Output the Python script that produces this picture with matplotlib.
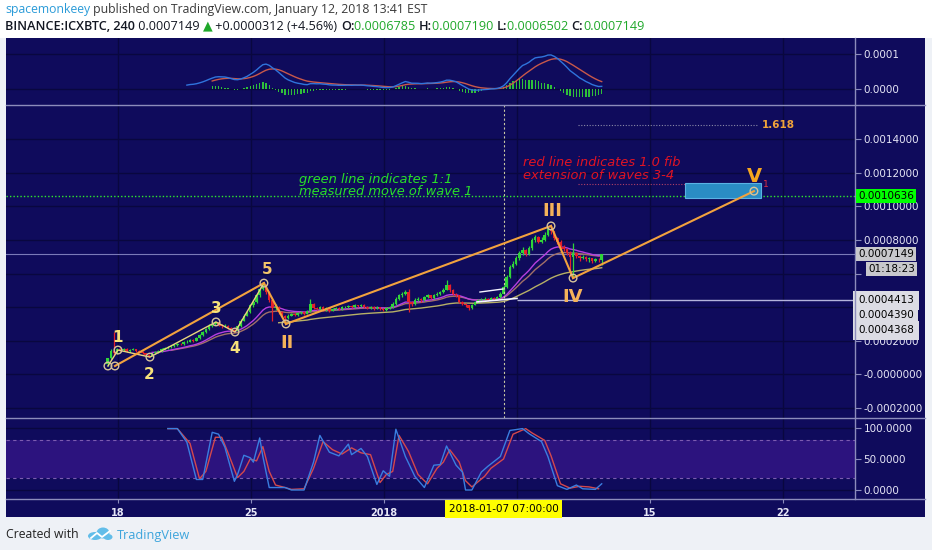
import matplotlib
matplotlib.use("Agg")
import matplotlib.pyplot as plt
import matplotlib.transforms as mtrans
from matplotlib.patches import Rectangle, Ellipse
import numpy as np
import pandas as pd

# ---------------- data ----------------
UNIT = 1e-6                      # candle values are in millionths of BTC
FIRST_CANDLE_DAY = -13 / 24      # Dec 17 11:00 EST, in days since Dec 18 00:00
CANDLE_DAYS = 4 / 24             # 240-minute candles
first_open = 60
last_open = 678.5

closes = [95, 140, 125, 150, 145, 150, 140, 148, 150, 140,
          135, 125, 118, 112, 125, 135, 140, 150, 155, 165,
          170, 175, 180, 178, 190, 195, 205, 200, 215, 235,
          250, 270, 290, 300, 310, 295, 285, 290, 275, 265,
          258, 285, 320, 350, 370, 410, 430, 470, 510, 530,
          490, 440, 395, 400, 370, 350, 335, 350, 360, 355,
          365, 370, 362, 375, 420, 395, 390, 400, 385, 392,
          380, 388, 395, 390, 398, 400, 405, 398, 410, 405,
          412, 400, 395, 400, 392, 398, 390, 385, 395, 400,
          420, 450, 470, 480, 490, 430, 420, 445, 450, 440,
          460, 470, 455, 470, 480, 490, 505, 530, 500, 480,
          470, 430, 420, 410, 395, 415, 430, 440, 445, 450,
          445, 455, 450, 460, 480, 520, 580, 640, 655, 690,
          720, 740, 715, 750, 800, 815, 790, 800, 830, 865,
          850, 810, 790, 760, 745, 725, 700, 720, 705, 690,
          700, 685, 690, 675, 685, 683.7, 714.9]
highs = [100, 150, 250, 158, 160, 156, 155, 152, 158, 153,
         145, 138, 128, 122, 130, 140, 146, 155, 162, 170,
         176, 182, 188, 186, 196, 202, 212, 210, 222, 242,
         258, 278, 298, 308, 318, 314, 300, 298, 294, 280,
         270, 292, 328, 358, 380, 418, 440, 480, 522, 550,
         535, 495, 448, 420, 405, 378, 355, 358, 368, 366,
         372, 378, 375, 382, 450, 425, 402, 408, 404, 398,
         396, 394, 402, 400, 405, 408, 412, 410, 418, 415,
         420, 416, 404, 406, 404, 404, 402, 394, 400, 408,
         428, 458, 480, 490, 500, 510, 438, 452, 460, 455,
         468, 480, 475, 478, 488, 498, 515, 560, 535, 506,
         486, 474, 436, 426, 415, 420, 436, 448, 452, 458,
         456, 462, 460, 468, 488, 530, 592, 652, 672, 702,
         735, 755, 748, 762, 812, 830, 822, 815, 845, 884,
         880, 855, 818, 798, 770, 752, 732, 780, 728, 712,
         712, 705, 700, 695, 692, 695, 719]
lows = [50, 90, 118, 120, 138, 140, 135, 136, 143, 135,
        128, 120, 112, 103, 108, 120, 130, 136, 145, 150,
        160, 165, 170, 172, 174, 185, 190, 193, 196, 210,
        230, 245, 265, 282, 295, 288, 278, 280, 268, 258,
        250, 254, 280, 315, 345, 365, 400, 425, 462, 500,
        480, 430, 318, 385, 360, 340, 303, 330, 345, 348,
        350, 360, 355, 358, 372, 388, 382, 385, 378, 380,
        374, 376, 384, 384, 386, 393, 396, 392, 395, 400,
        400, 394, 388, 390, 386, 388, 384, 378, 380, 390,
        396, 415, 445, 462, 472, 370, 405, 415, 438, 432,
        435, 452, 448, 450, 465, 475, 485, 500, 492, 472,
        462, 422, 410, 400, 385, 390, 410, 425, 435, 440,
        438, 440, 444, 446, 455, 476, 515, 572, 630, 648,
        682, 712, 705, 708, 742, 790, 780, 782, 795, 822,
        838, 798, 776, 748, 735, 712, 588, 578, 692, 676,
        684, 672, 670, 660, 668, 670, 650.2]

# Stochastic RSI (%K blue, %D red): candle index -> value
k_idx = [19, 22, 25, 28, 30, 33, 35, 37, 40, 41, 43, 45, 46, 48, 49, 51, 53, 56, 58, 62,
         65, 67, 70, 73, 76, 77, 80, 82, 85, 87, 89, 91, 94, 97, 100, 103, 105, 107, 110, 112,
         113, 115, 118, 120, 124, 127, 131, 133, 137, 139, 142, 145, 148, 150, 154, 156]
k_val = [99, 99, 77, 17, 17, 93, 90, 69, 14, 25, 56, 52, 45, 84, 54, 4, 4, 4, 0, 0,
         45, 88, 61, 55, 74, 57, 67, 54, 9, 31, 22, 98, 54, 22, 4, 40, 41, 71, 40, 29,
         0, 0, 29, 38, 54, 96, 99, 91, 78, 54, 7, 1, 8, 2, 1, 10]
d_idx = [19, 22, 26, 29, 31, 34, 36, 38, 41, 43, 45, 47, 49, 51, 53, 56, 58, 62, 65, 68,
         71, 74, 77, 80, 83, 86, 88, 90, 92, 95, 98, 101, 104, 106, 108, 111, 113, 115, 119, 121,
         125, 128, 132, 134, 138, 140, 143, 146, 149, 152, 155]
d_val = [99, 99, 75, 18, 30, 85, 85, 60, 20, 30, 50, 47, 70, 30, 8, 4, 1, 2, 35, 78,
         65, 58, 68, 60, 57, 12, 25, 30, 88, 62, 25, 10, 35, 45, 65, 45, 15, 5, 22, 35,
         50, 90, 99, 92, 80, 55, 10, 3, 6, 5, 2]

# Elliott wave drawing points (day, price)
wave_days = [-0.53, -0.16, 0.0, 1.68, 5.16, 6.16, 7.68, 8.84, 22.79, 23.95, 33.47]
wave_prices = [0.00005, 0.00005, 0.000145, 0.000103, 0.000312, 0.000252,
               0.000543, 0.000300, 0.000883, 0.000573, 0.001090]
wave_labels = [(2, "1"), (3, "2"), (4, "3"), (5, "4"), (6, "5"),
               (7, "II"), (8, "III"), (9, "IV"), (10, "V")]

measured_move = 0.0010636
fib_1618 = 0.0014834
fib_100 = 0.0011325
target_box = (0.00105, 0.001138)
hline_level = 0.0004413
stacked_levels = ["0.0004413", "0.0004390", "0.0004368"]
last_price = 0.0007149
crosshair_day = 20 + 7 / 24  # 2018-01-07 07:00

date_ticks = [0, 7, 14, 21, 28, 35]
date_labels = ["18", "25", "2018", "", "15", "22"]
price_ticks = [-0.0002, 0.0, 0.0002, 0.0004, 0.0006, 0.0008, 0.0010, 0.0012, 0.0014]
price_labels = ["-0.0002000", "-0.0000000", "0.0002000", "", "",
                "0.0008000", "0.0010000", "0.0012000", "0.0014000"]
macd_ticks = [0.0, 0.0001]
macd_labels = ["0.0000", "0.0001"]
stoch_ticks = [0, 50, 100]
stoch_labels = ["0.0000", "50.0000", "100.0000"]

# ---------------- figure ----------------
W, H = 932, 550
BG = '#0f0b5c'
GRID = '#09073f'
SEP = '#8c8cbc'
TXT = '#e6e6f6'

fig = plt.figure(figsize=(W / 100, H / 100), dpi=100)
fig.patch.set_facecolor('#eef1f6')


def frect(x0, y0, x1, y1):
    return [x0 / W, 1 - y1 / H, (x1 - x0) / W, (y1 - y0) / H]


fig.add_artist(Rectangle((0, 1 - 38 / H), 1, 38 / H, transform=fig.transFigure,
                         facecolor='#ffffff', edgecolor='none', zorder=-10))
fig.add_artist(Rectangle((6 / W, 1 - 517 / H), 919 / W, 479 / H, transform=fig.transFigure,
                         facecolor=BG, edgecolor='none', zorder=-9))

ax_m = fig.add_axes(frect(6, 38, 855, 105))
ax_p = fig.add_axes(frect(6, 105, 855, 418))
ax_s = fig.add_axes(frect(6, 418, 855, 499))

XMIN, XMAX = (6 - 118) / 19.0, (855 - 118) / 19.0
for ax in (ax_m, ax_p, ax_s):
    ax.set_facecolor(BG)
    ax.set_xlim(XMIN, XMAX)
    for s in ax.spines.values():
        s.set_visible(False)
    ax.yaxis.tick_right()
    ax.tick_params(axis='y', direction='out', length=4, width=0.8, color=SEP,
                   labelcolor=TXT, labelsize=7.5, pad=2)
    ax.tick_params(axis='x', bottom=False, labelbottom=False)
    for d in date_ticks:
        ax.axvline(d, color=GRID, lw=1, zorder=0)

ax_p.set_ylim(-0.0002593, 0.0016024)
ax_m.set_ylim(-0.0000457, 0.0001457)
ax_s.set_ylim(-14.5, 116.1)
ax_p.set_yticks(price_ticks, price_labels)
ax_m.set_yticks(macd_ticks, macd_labels)
ax_s.set_yticks(stoch_ticks, stoch_labels)
for ax, ticks in ((ax_p, price_ticks), (ax_m, macd_ticks), (ax_s, stoch_ticks)):
    for tv in ticks:
        ax.axhline(tv, color=GRID, lw=1, zorder=0)

ax_s.set_xticks(date_ticks, date_labels)
ax_s.tick_params(axis='x', bottom=True, labelbottom=True, direction='out', length=3,
                 color=SEP, labelcolor=TXT, labelsize=7)
for lab in ax_s.get_xticklabels():
    lab.set_fontweight('bold')

# separators
for yy in (105, 418, 499):
    fig.add_artist(plt.Line2D([6 / W, 925 / W], [1 - yy / H] * 2, transform=fig.transFigure,
                              color=SEP, lw=1, zorder=5))
fig.add_artist(plt.Line2D([855 / W] * 2, [1 - 38 / H, 1 - 499 / H], transform=fig.transFigure,
                          color=SEP, lw=1, zorder=5))

# ---------------- candles ----------------
c = np.array(closes, dtype=float)
hi = np.array(highs, dtype=float)
lo = np.array(lows, dtype=float)
o = np.r_[first_open, c[:-1]]
o[-1] = last_open
t = FIRST_CANDLE_DAY + np.arange(len(c)) * CANDLE_DAYS
up = c >= o
cols = np.where(up, '#2fd43a', '#e3202c')
ax_p.vlines(t, lo * UNIT, hi * UNIT, colors=cols, lw=0.9, zorder=3)
body_b = np.minimum(o, c) * UNIT
body_h = np.maximum(np.abs(c - o) * UNIT, 0.000005)
ax_p.bar(t, body_h, bottom=body_b, width=0.13, color=cols, linewidth=0, zorder=3)

cs = pd.Series(c * UNIT)
ma_p = cs.ewm(span=15, adjust=True, min_periods=15).mean()
ma_t = cs.ewm(span=21, adjust=True, min_periods=21).mean()
ma_o = cs.ewm(span=55, adjust=True, min_periods=55).mean()
ax_p.plot(t, ma_o, color='#b7b066', lw=1, zorder=2)
ax_p.plot(t, ma_t, color='#a27068', lw=1, zorder=2)
ax_p.plot(t, ma_p, color='#b63fe0', lw=1, zorder=2)

# horizontal lines
ax_p.axhline(measured_move, color='#2ee82e', lw=1, ls=(0, (1, 1.5)), zorder=4)
ax_p.axhline(last_price, color='#7a7ab8', lw=0.8, zorder=1)
ax_p.hlines(hline_level, 21.0, XMAX, color='#b4b4dc', lw=1, zorder=2)
ax_p.plot([19.05, 20.26], [0.000490, 0.000508], color='#f4f4ff', lw=1, zorder=4)
ax_p.plot([18.89, 21.0], [0.000431, 0.000452], color='#f4f4ff', lw=1.2, zorder=4)
ax_p.axvline(crosshair_day, color='#c8c8a4', lw=0.8, ls=(0, (2, 2)), zorder=4)

# fib lines and target box
ax_p.hlines(fib_1618, 24.2, 33.63, color='#8a8aa8', lw=0.8, ls=(0, (1, 1.5)), zorder=4)
ax_p.hlines(fib_100, 24.2, 29.84, color='#b04068', lw=0.8, ls=(0, (1, 1.5)), zorder=4)
ax_p.add_patch(Rectangle((29.84, target_box[0]), 4.0, target_box[1] - target_box[0],
                         facecolor='#2a8cc4', edgecolor='#5ab2e4', lw=0.8, zorder=4))
ax_p.text(33.9, fib_1618, "1.618", color='#f0a33a', fontsize=7.5, fontweight='bold',
          va='center', ha='left', zorder=6)

# wave lines
wd, wp = wave_days, wave_prices
pale = [0, 2, 3, 4, 5, 6]
ax_p.plot([wd[i] for i in pale], [wp[i] for i in pale], color='#e9d67c', lw=1, zorder=5)
orange = [(1, 6), (6, 7), (7, 8), (8, 9), (9, 10)]
for a, b in orange:
    ax_p.plot([wd[a], wd[b]], [wp[a], wp[b]], color='#f2a23e', lw=1.5, zorder=5)
ax_p.scatter(wd, wp, s=30, facecolor='none', edgecolor='#d8c49a', lw=1, zorder=6)

label_style = {
    "1": ('#f7e27a', 11, (0, 13)), "2": ('#f7e27a', 11, (-1, -17)),
    "3": ('#f7e27a', 11, (0, 13)), "4": ('#f7e27a', 11, (0, -16)),
    "5": ('#f2c46a', 11, (3, 14)), "II": ('#f5b25a', 13, (1, -19)),
    "III": ('#f5b25a', 13, (1, 15)), "IV": ('#f5b25a', 13, (0, -19)),
    "V": ('#f5a51f', 14, (1, 15)),
}
for i, lab in wave_labels:
    colr, sz, off = label_style[lab]
    ax_p.annotate(lab, (wd[i], wp[i]), xytext=off, textcoords='offset pixels',
                  color=colr, fontsize=sz, fontweight='bold', ha='center', va='center', zorder=7)
ax_p.annotate("1", (wd[10], wp[10]), xytext=(12, 7), textcoords='offset pixels',
              color='#e03040', fontsize=6.5, ha='center', va='center', zorder=7)

ax_p.text(9.53, 0.0011236, "green line indicates 1:1\nmeasured move of wave 1",
          color='#28e028', fontsize=9.4, fontstyle='italic', linespacing=0.98,
          ha='left', va='center', zorder=7)
ax_p.text(21.32, 0.0012217, "red line indicates 1.0 fib\nextension of waves 3-4",
          color='#e01424', fontsize=9.4, fontstyle='italic', linespacing=0.98,
          ha='left', va='center', zorder=7)

# ---------------- MACD ----------------
ema12 = cs.ewm(span=12, adjust=True, min_periods=26).mean()
ema26 = cs.ewm(span=26, adjust=True, min_periods=26).mean()
macd = ema12 - ema26
signal = macd.ewm(span=9, adjust=True, min_periods=9).mean()
hist = macd - signal
ax_m.bar(t, hist, width=0.07, color='#2fbf3a', linewidth=0, zorder=2)
ax_m.plot(t, signal, color='#c8584a', lw=1, zorder=3)
ax_m.plot(t, macd, color='#2f74dc', lw=1, zorder=3)

# ---------------- Stoch RSI ----------------
ax_s.axhspan(20, 80, color='#2c137e', zorder=0.5, lw=0)
for lv in (20, 80):
    ax_s.axhline(lv, color='#7c5cb0', lw=0.8, ls=(0, (3, 3)), zorder=1)
ax_s.plot(FIRST_CANDLE_DAY + np.array(d_idx) * CANDLE_DAYS, d_val, color='#d4484c', lw=1, zorder=3)
ax_s.plot(FIRST_CANDLE_DAY + np.array(k_idx) * CANDLE_DAYS, k_val, color='#3a7ee0', lw=1, zorder=3)

# ---------------- axis label boxes ----------------
bt = mtrans.blended_transform_factory(fig.transFigure, ax_p.transData)
box_kw = dict(fontsize=7.5, color='black', va='center', ha='left', zorder=20)
fig.text(858 / W, measured_move, "0.0010636", transform=bt,
         bbox=dict(boxstyle='square,pad=0.2', fc='#00ff00', ec='none'), **box_kw)
fig.text(858 / W, last_price, "0.0007149", transform=bt,
         bbox=dict(boxstyle='square,pad=0.2', fc='#c8c8cc', ec='none'), **box_kw)
ax_p.annotate("01:18:23", (868 / W, last_price), xycoords=bt, xytext=(0, -15),
              textcoords='offset pixels', annotation_clip=False,
              bbox=dict(boxstyle='square,pad=0.2', fc='#c8c8cc', ec='none'), **box_kw)
for j, lab in enumerate(stacked_levels):
    ax_p.annotate(lab, (858 / W, hline_level), xycoords=bt, xytext=(0, -15 * j),
                  textcoords='offset pixels', annotation_clip=False,
                  bbox=dict(boxstyle='square,pad=0.45', fc='#dcdce4', ec='none'), **box_kw)

# crosshair date box
bx = mtrans.blended_transform_factory(ax_s.transData, fig.transFigure)
fig.text(crosshair_day, 1 - 509 / H, "2018-01-07 07:00:00", transform=bx, fontsize=7.5,
         color='black', ha='center', va='center', zorder=20,
         bbox=dict(boxstyle='square,pad=0.35', fc='#ffff00', ec='none'))

# ---------------- header / footer ----------------
renderer = fig.canvas.get_renderer()
HF = ['Open Sans', 'DejaVu Sans']


def seq_text(x, y, parts, size):
    for txt, colr, weight in parts:
        tt = fig.text(x / W, 1 - y / H, txt, color=colr, fontsize=size, fontweight=weight,
                      family=HF, va='center', ha='left')
        x += tt.get_window_extent(renderer=renderer).width


seq_text(5, 10, [("spacemonkeey", '#2a9bd8', 'normal'),
                 (" published on TradingView.com, January 12, 2018 13:41 EST", '#3a3a3a', 'normal')], 8.85)
G = '#1fa82a'
K = '#131722'
seq_text(5, 26, [("BINANCE:ICXBTC, 240", K, 'semibold'), (" 0.0007149 ", K, 'normal'),
                 ("\u25b2", G, 'normal'), (" +0.0000312 (+4.56%) ", K, 'normal'),
                 ("O:", K, 'semibold'), ("0.0006785 ", G, 'normal'),
                 ("H:", K, 'semibold'), ("0.0007190 ", G, 'normal'),
                 ("L:", K, 'semibold'), ("0.0006502 ", G, 'normal'),
                 ("C:", K, 'semibold'), ("0.0007149", G, 'normal')], 9.1)

fig.text(6 / W, 1 - 535 / H, "Created with", color='#222222', fontsize=8.8, family=HF,
         va='center', ha='left')
fig.text(117 / W, 1 - 535 / H, "TradingView", color='#3da5dc', fontsize=9.2, family=HF,
         va='center', ha='left')
# logo
LB = '#62bde9'
for (cx, cy, ew, eh) in [(95, 536, 14, 8), (103, 533, 13, 11), (108, 537, 9, 6)]:
    fig.add_artist(Ellipse((cx / W, 1 - cy / H), ew / W, eh / H, transform=fig.transFigure,
                           facecolor=LB, edgecolor='none', zorder=10))
fig.add_artist(plt.Line2D([91 / W, 97 / W, 102 / W, 110 / W],
                          [1 - 538 / H, 1 - 533 / H, 1 - 537 / H, 1 - 531 / H],
                          transform=fig.transFigure, color='white', lw=1.3, zorder=11))

fig.savefig("out.png", dpi=100, facecolor=fig.get_facecolor())
